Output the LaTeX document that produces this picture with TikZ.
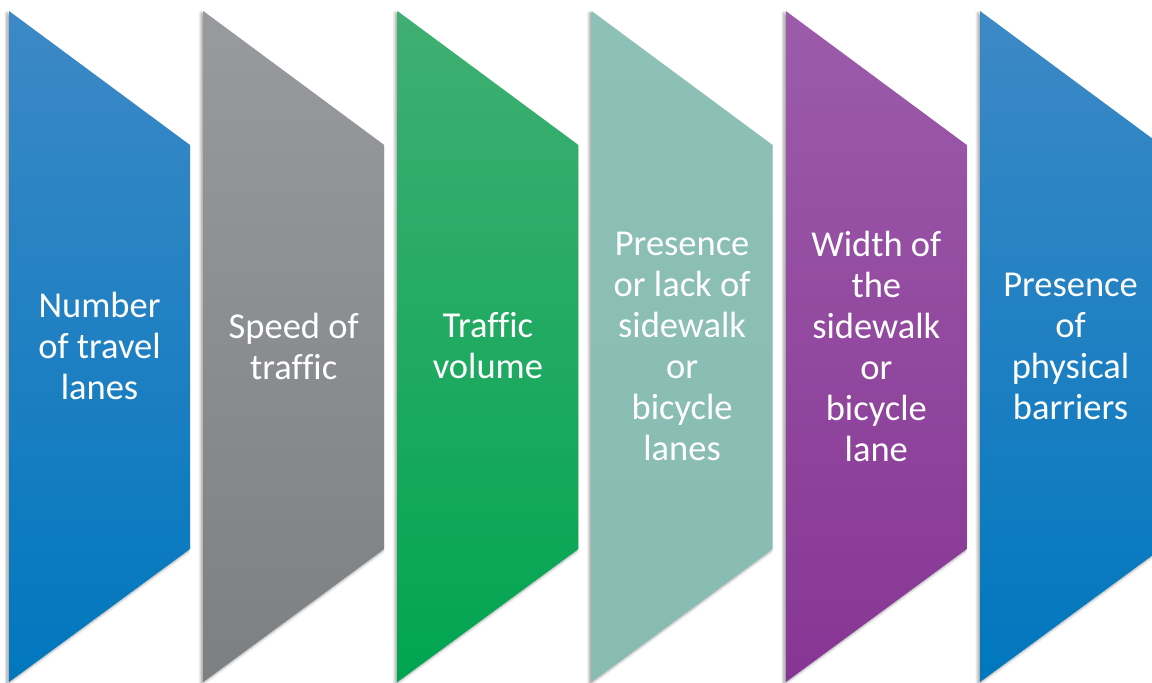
\documentclass[tikz,border=0pt]{standalone}
\usepackage{fontspec}
\setmainfont[Ligatures=CommonOff]{Carlito}
\usetikzlibrary{shadows.blur}
\definecolor{blueT}{HTML}{3D89C6}
\definecolor{blueB}{HTML}{0077BE}
\definecolor{grayT}{HTML}{989A9D}
\definecolor{grayB}{HTML}{7D8083}
\definecolor{greenT}{HTML}{40AF72}
\definecolor{greenB}{HTML}{00A551}
\definecolor{tealT}{HTML}{8DC0B6}
\definecolor{tealB}{HTML}{88BCB2}
\definecolor{purpT}{HTML}{9C5CAA}
\definecolor{purpB}{HTML}{873594}
\newcommand{\mypanel}[3]{%
  \path[panel, top color=#2, bottom color=#3]
    (#1,11) -- ++(181,134) -- ++(0,404) -- (#1,682) -- cycle;}
\begin{document}
\begin{tikzpicture}[x=1pt,y=-1pt,
  lbl/.style={text=white, align=center, inner sep=0pt, font=\fontsize{36.5}{41}\selectfont},
  panel/.style={blur shadow={shadow xshift=-2pt, shadow yshift=-2pt, shadow blur steps=6, shadow opacity=40, shadow blur radius=3pt}}]
\useasboundingbox (0,0) rectangle (1152,683);
\clip (0,0) rectangle (1152,683);
\mypanel{9}{blueT}{blueB}
\mypanel{203.2}{grayT}{grayB}
\mypanel{397.4}{greenT}{greenB}
\mypanel{591.6}{tealT}{tealB}
\mypanel{785.8}{purpT}{purpB}
\mypanel{980}{blueT}{blueB}
\node[lbl] (t1) at (99.5,346) {Number\\of travel\\lanes};
\node[lbl] (t2) at (293.7,346) {Speed of\\traffic};
\node[lbl] (t3) at (487.9,346) {Traffic\\volume};
\node[lbl] (t4) at (682.1,346) {Presence\\or lack of\\sidewalk\\or\\bicycle\\lanes};
\node[lbl] (t5) at (876.3,346) {Width of\\the\\sidewalk\\or\\bicycle\\lane};
\node[lbl] (t6) at (1070.5,346) {Presence\\of\\physical\\barriers};
\end{tikzpicture}
\end{document}
